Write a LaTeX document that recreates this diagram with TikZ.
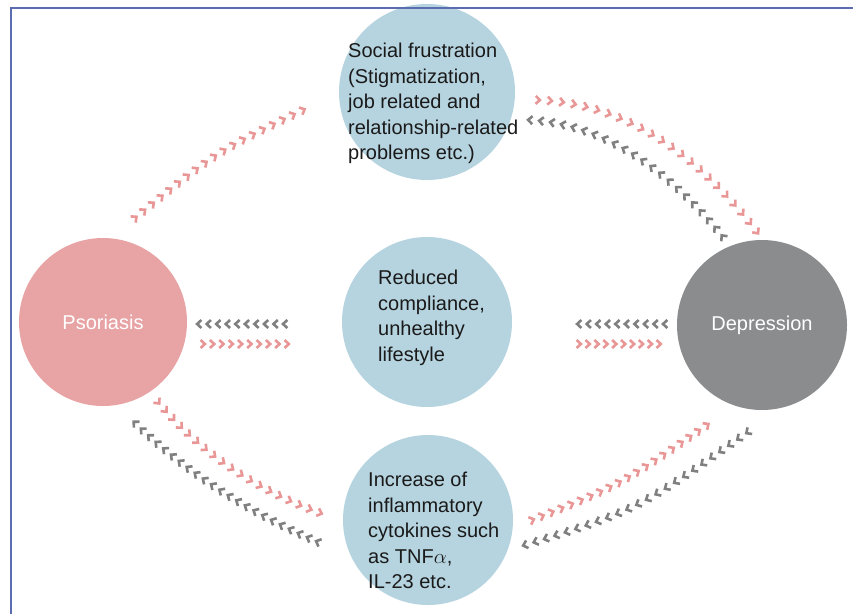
\documentclass[tikz,border=0pt]{standalone}
\usepackage{fontspec}
\setmainfont{Liberation Sans}
\usetikzlibrary{decorations.markings}
\definecolor{cblue}{HTML}{B6D4DF}
\definecolor{cpink}{HTML}{E8A3A5}
\definecolor{cgrey}{HTML}{8B8C8E}
\definecolor{chpink}{HTML}{E99696}
\definecolor{chgrey}{HTML}{808080}
\definecolor{framecol}{HTML}{5B6DAE}
\definecolor{txtcol}{HTML}{1A1A1A}
\begin{document}
\begin{tikzpicture}[x=1pt,y=-1pt,
  circ/.style={circle, inner sep=0pt, minimum size=#1},
  lbl/.style={inner sep=0pt, align=left, text=txtcol, font=\fontsize{20}{25.5}\selectfont},
  wlbl/.style={inner sep=0pt, text=white, font=\fontsize{20}{24}\selectfont},
  chevline/.style={line width=2.6pt, line cap=butt, line join=miter},
  gtchain/.style 2 args={decorate, decoration={markings,
     mark=between positions 0 and 1 step {0.999/(#2-1)} with {\draw[chevline,#1] (-2.4,4) -- (1.9,0) -- (-2.4,-4);}}},
  ltchain/.style 2 args={decorate, decoration={markings,
     mark=between positions 0 and 1 step {0.999/(#2-1)} with {\draw[chevline,#1] (2.4,4) -- (-1.9,0) -- (2.4,-4);}}}
]
\useasboundingbox (0,0) rectangle (853,614);
\fill[white] (0,0) rectangle (853,614);

% circles
\node[circ=168pt, fill=cpink] (pso) at (103,322) {};
\node[circ=176pt, fill=cblue] (soc) at (427,92) {};
\node[circ=170pt, fill=cblue] (mid) at (427,322) {};
\node[circ=170pt, fill=cblue] (inf) at (428,520) {};
\node[circ=170pt, fill=cgrey] (dep) at (762,325) {};

% labels
\node[wlbl] (psot) at (pso) {Psoriasis};
\node[wlbl] (dept) at (dep) {Depression};
\node[lbl, anchor=north west] (soct) at (348,43) {Social frustration\\(Stigmatization,\\job related and\\relationship-related\\problems etc.)};
\node[lbl, anchor=north west] (midt) at (378,270) {Reduced\\compliance,\\unhealthy\\lifestyle};
\node[lbl, anchor=north west] (inft) at (368,472) {Increase of\\inflammatory\\cytokines such\\as TNF$\alpha$,\\IL-23 etc.};

% chain end points
\coordinate (tla) at (135,218); \coordinate (tlb) at (303,110);
\coordinate (trpa) at (538,100); \coordinate (trpb) at (757,232);
\coordinate (trga) at (530,120); \coordinate (trgb) at (723,237);
\coordinate (mlga) at (199,324); \coordinate (mlgb) at (285,324);
\coordinate (mlpa) at (203,344); \coordinate (mlpb) at (287,344);
\coordinate (mrga) at (579,324); \coordinate (mrgb) at (665,324);
\coordinate (mrpa) at (579,344); \coordinate (mrpb) at (659,344);
\coordinate (blpa) at (158,402); \coordinate (blpb) at (320,513);
\coordinate (blga) at (135,423); \coordinate (blgb) at (318,542);
\coordinate (brpa) at (532,520); \coordinate (brpb) at (707,425);
\coordinate (brga) at (525,545); \coordinate (brgb) at (748,432);

% chevron chains
\path[gtchain={chpink}{19}] (tla) .. controls (216,152) .. (tlb);
\path[gtchain={chpink}{23}] (trpa) .. controls (619,103) and (692,147) .. (trpb);
\path[ltchain={chgrey}{22}] (trga) .. controls (599,124) and (663,163) .. (trgb);
\path[ltchain={chgrey}{10}] (mlga) -- (mlgb);
\path[gtchain={chpink}{10}] (mlpa) -- (mlpb);
\path[ltchain={chgrey}{10}] (mrga) -- (mrgb);
\path[gtchain={chpink}{10}] (mrpa) -- (mrpb);
\path[gtchain={chpink}{19}] (blpa) .. controls (200,452) and (254,489) .. (blpb);
\path[ltchain={chgrey}{23}] (blga) .. controls (187,473) and (248,512) .. (blgb);
\path[gtchain={chpink}{20}] (brpa) .. controls (620,485) .. (brpb);
\path[ltchain={chgrey}{24}] (brga) .. controls (637,510) .. (brgb);

% frame
\draw[framecol, line width=1.6pt] (11,614) -- (11,8) -- (853,8);
\end{tikzpicture}
\end{document}
